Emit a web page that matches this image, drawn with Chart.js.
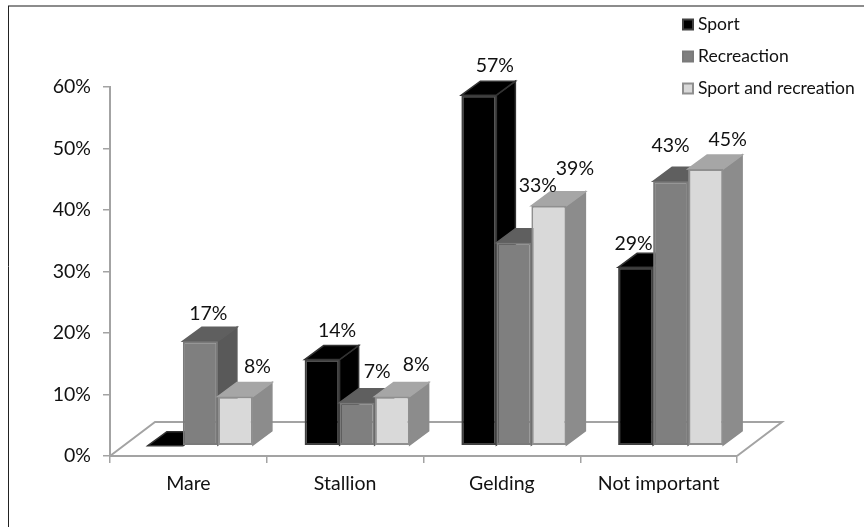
<!DOCTYPE html>
<html>
<head>
<meta charset="utf-8">
<title>Horse use by sex</title>
<script src="https://cdn.jsdelivr.net/npm/chart.js@4"></script>
<style>
  html, body { margin: 0; background: #fff; }
  #wrap { width: 864px; height: 527px; }
</style>
</head>
<body>
<div id="wrap"><canvas id="chart" width="864" height="527"></canvas></div>
<script>
const categories = ['Mare', 'Stallion', 'Gelding', 'Not important'];
const seriesNames = ['Sport', 'Recreaction', 'Sport and recreation'];
const sport = [0, 14, 57, 29];
const recreation = [17, 7, 33, 43];
const sportAndRecreation = [8, 8, 39, 45];
const yTicks = [0, 10, 20, 30, 40, 50, 60];

// Extrusion of the bars and floor, in pixels
const BAR_SHIFT = { x: 12, y: -10.3 };
const BAR_DEPTH = { x: 19, y: -14 };
const FLOOR_DEPTH = { x: 45, y: -34 };
const AXIS_GREY = '#a3a3a3';
const TEXT = '#111111';
const FONT = 'Lato, "Open Sans", sans-serif';

// Hand placed value labels, offset from the top centre of each bar
const labelOffsets = [
  [[0, 0], [15, -29], [16, -29], [-2, -24]],
  [[8, -27], [20, -31], [24, -57], [0, -36]],
  [[22, -30], [24, -32], [26, -37], [22, -29]],
];

// front fill, outline, side face, top face
const faceStyles = [
  { front: '#000000', edge: '#404040', side: '#000000', top: '#000000', depthEdge: '#333333' },
  { front: '#7f7f7f', edge: '#7a7a7a', side: '#595959', top: '#5f5f5f', depthEdge: null },
  { front: '#d9d9d9', edge: '#8f8f8f', side: '#8c8c8c', top: '#a6a6a6', depthEdge: null },
];

function fillFace(ctx, points, fill, edge) {
  ctx.beginPath();
  points.forEach((p, i) => (i ? ctx.lineTo(p[0], p[1]) : ctx.moveTo(p[0], p[1])));
  ctx.closePath();
  ctx.fillStyle = fill;
  ctx.fill();
  ctx.strokeStyle = edge || fill;
  ctx.lineWidth = 1.5;
  ctx.stroke();
}

const frame3d = {
  id: 'frame3d',
  beforeDraw(chart) {
    const { ctx, width, height } = chart;
    ctx.save();
    ctx.lineWidth = 1.5;
    ctx.strokeStyle = '#666666';
    ctx.beginPath();
    ctx.moveTo(8, 6);
    ctx.lineTo(width, 6);
    ctx.stroke();
    ctx.strokeStyle = '#222222';
    ctx.lineWidth = 1;
    ctx.beginPath();
    ctx.moveTo(8.5, 6);
    ctx.lineTo(8.5, height);
    ctx.stroke();
    ctx.restore();
  },
  // Bars are painted left to right so each front face hides its neighbour's side
  beforeDatasetsDraw(chart) {
    const { ctx, scales: { x: xScale, y: yScale } } = chart;
    const zero = yScale.getPixelForValue(0);

    ctx.save();
    ctx.strokeStyle = AXIS_GREY;
    ctx.lineWidth = 2;
    ctx.beginPath();
    ctx.moveTo(xScale.left, zero);
    ctx.lineTo(xScale.left + FLOOR_DEPTH.x, zero + FLOOR_DEPTH.y);
    ctx.lineTo(xScale.right + FLOOR_DEPTH.x, zero + FLOOR_DEPTH.y);
    ctx.lineTo(xScale.right, zero);
    ctx.stroke();

    ctx.translate(BAR_SHIFT.x, BAR_SHIFT.y);
    chart.data.datasets.forEach((ds, d) => {
      const style = faceStyles[d];
      chart.getDatasetMeta(d).data.forEach((bar, i) => {
        const left = bar.x - bar.width / 2;
        const right = bar.x + bar.width / 2;
        const dx = BAR_DEPTH.x;
        const dy = BAR_DEPTH.y;
        fillFace(ctx, [[right, bar.y], [right + dx, bar.y + dy], [right + dx, bar.base + dy], [right, bar.base]], style.side, style.depthEdge);
        fillFace(ctx, [[left, bar.y], [left + dx, bar.y + dy], [right + dx, bar.y + dy], [right, bar.y]], style.top, style.depthEdge);
        if (ds.data[i] > 0) bar.draw(ctx);
      });
    });
    ctx.restore();

    ctx.save();
    ctx.font = '19.5px ' + FONT;
    ctx.fillStyle = TEXT;
    ctx.textAlign = 'center';
    ctx.textBaseline = 'middle';
    chart.data.datasets.forEach((ds, d) => {
      chart.getDatasetMeta(d).data.forEach((bar, i) => {
        if (!ds.data[i]) return;
        const [ox, oy] = labelOffsets[d][i];
        ctx.fillText(ds.data[i] + '%', bar.x + BAR_SHIFT.x + ox, bar.y + BAR_SHIFT.y + oy);
      });
    });
    ctx.restore();
    return false;
  },
  // Legend floats in the top right corner over the plot
  afterDraw(chart) {
    const { ctx } = chart;
    ctx.save();
    ctx.font = '17.5px ' + FONT;
    ctx.textBaseline = 'middle';
    seriesNames.forEach((name, d) => {
      const y = 24.5 + d * 32;
      ctx.fillStyle = faceStyles[d].front;
      ctx.strokeStyle = faceStyles[d].edge;
      ctx.lineWidth = 2;
      ctx.fillRect(683, y - 5, 10, 10);
      ctx.strokeRect(683, y - 5, 10, 10);
      ctx.fillStyle = TEXT;
      ctx.fillText(name, 698, y);
    });
    ctx.restore();
  },
};

new Chart(document.getElementById('chart'), {
  type: 'bar',
  data: {
    labels: categories,
    datasets: [sport, recreation, sportAndRecreation].map((values, d) => ({
      label: seriesNames[d],
      data: values,
      backgroundColor: faceStyles[d].front,
      borderColor: faceStyles[d].edge,
      borderWidth: 2,
      borderSkipped: false,
      categoryPercentage: 0.67,
      barPercentage: 1,
    })),
  },
  plugins: [frame3d],
  options: {
    responsive: false,
    animation: false,
    layout: { padding: { left: 8, right: 127, top: 87, bottom: 21 } },
    plugins: {
      tooltip: { enabled: false },
      legend: { display: false },
    },
    scales: {
      x: {
        afterFit(scale) { scale.height = 50; },
        grid: { drawOnChartArea: false, color: AXIS_GREY, tickLength: 7, lineWidth: 1.5 },
        border: { color: AXIS_GREY, width: 2 },
        ticks: { color: TEXT, padding: 9, maxRotation: 0, font: { family: FONT, size: 19.5 } },
      },
      y: {
        min: 0,
        max: 60,
        afterFit(scale) { scale.width = 102; },
        afterBuildTicks(scale) { scale.ticks = yTicks.map(value => ({ value })); },
        grid: { drawOnChartArea: false, color: AXIS_GREY, tickLength: 7, lineWidth: 1.5 },
        border: { color: AXIS_GREY, width: 2 },
        ticks: {
          color: TEXT,
          padding: 12,
          font: { family: FONT, size: 19.5 },
          callback: value => value + '%',
        },
      },
    },
  },
});
</script>
</body>
</html>
